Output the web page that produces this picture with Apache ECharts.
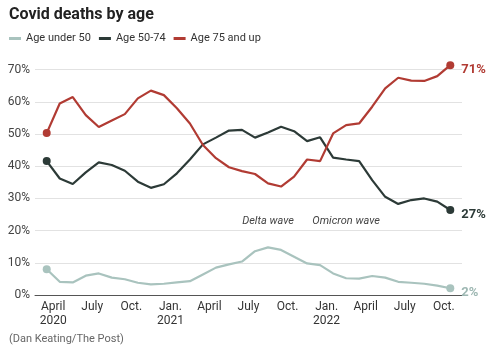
<!DOCTYPE html>
<html>
<head>
<meta charset="utf-8">
<script src="https://cdn.jsdelivr.net/npm/echarts@6/dist/echarts.min.js"></script>
<style>
html,body{margin:0;padding:0;background:#fff;}
#chart{width:500px;height:349px;}
</style>
</head>
<body>
<div id="chart"></div>
<script>
// Monthly data, March 2020 to October 2022 (share of Covid deaths, %)
var months = ['2020-03','2020-04','2020-05','2020-06','2020-07','2020-08','2020-09','2020-10','2020-11','2020-12',
  '2021-01','2021-02','2021-03','2021-04','2021-05','2021-06','2021-07','2021-08','2021-09','2021-10','2021-11','2021-12',
  '2022-01','2022-02','2022-03','2022-04','2022-05','2022-06','2022-07','2022-08','2022-09','2022-10'];
var under50 = [8.0,4.1,3.9,6.0,6.7,5.4,4.9,3.8,3.3,3.5,3.9,4.3,6.4,8.5,9.5,10.4,13.6,14.8,14.0,11.9,9.8,9.3,6.7,5.2,5.1,5.9,5.4,4.1,3.8,3.5,2.9,2.1];
var age50to74 = [41.6,36.2,34.5,38.1,41.2,40.4,38.6,35.2,33.3,34.4,37.8,42.1,46.8,48.9,51.1,51.3,48.9,50.5,52.3,50.9,47.8,49.0,42.7,42.1,41.6,35.7,30.5,28.3,29.5,30.0,29.0,26.4];
var age75up = [50.3,59.5,61.5,55.9,52.2,54.2,56.2,61.1,63.5,62.1,58.0,53.3,46.6,42.5,39.7,38.5,37.6,34.7,33.7,36.8,42.1,41.6,50.2,52.8,53.3,58.5,64.2,67.5,66.6,66.5,68.0,71.4];
var seriesNames = ['Age under 50','Age 50-74','Age 75 and up'];
var endLabels = ['2%','27%','71%'];
var tickMonths = ['2020-04','2020-07','2020-10','2021-01','2021-04','2021-07','2021-10','2022-01','2022-04','2022-07','2022-10'];
var tickLabels = ['April\n2020','July','Oct.','Jan.\n2021','April','July','Oct.','Jan.\n2022','April','July','Oct.'];
var yTicks = [0,10,20,30,40,50,60,70];
var annotations = [{text:'Delta wave', month:'2021-08', value:23}, {text:'Omicron wave', month:'2022-02', value:23}];

// month string -> months since Jan 1 2020 (start of month)
function monthStart(m){ var p = m.split('-'); return (parseInt(p[0],10)-2020)*12 + parseInt(p[1],10)-1; }
function midMonth(m){ return monthStart(m) + 0.5; }

var colors = ['#a9c3be','#2c3a37','#b13b33'];
var values = [under50, age50to74, age75up];
var tickVals = tickMonths.map(monthStart);

var fontFam = 'Roboto, "Liberation Sans", sans-serif';
var series = values.map(function(arr, k){
  var last = arr.length - 1;
  var s = {
    name: seriesNames[k],
    type: 'line',
    data: arr.map(function(v,i){ return [midMonth(months[i]), v]; }),
    symbol: 'circle',
    showAllSymbol: true,
    symbolSize: function(val, params){ return (params.dataIndex === 0 || params.dataIndex === last) ? 8 : 0; },
    lineStyle: {width: 2.2, color: colors[k]},
    itemStyle: {color: colors[k]},
    clip: false,
    z: 3 + k,
    animation: false,
    endLabel: {
      show: true,
      formatter: endLabels[k],
      color: k === 0 ? '#9db7b2' : colors[k],
      fontWeight: 'bold',
      fontSize: 13,
      fontFamily: fontFam,
      distance: 11,
      offset: [0, 5]
    }
  };
  if (k === 1) {
    s.markPoint = {
      symbol: 'circle', symbolSize: 0, silent: true, animation: false,
      label: {show: true, position: 'inside', fontStyle: 'italic', color: '#444', fontSize: 11, fontFamily: fontFam},
      data: annotations.map(function(a){ return {coord: [midMonth(a.month), a.value], label: {formatter: a.text}}; })
    };
  }
  return s;
});

var chart = echarts.init(document.getElementById('chart'), null, {renderer: 'canvas'});
chart.setOption({
  backgroundColor: '#fff',
  animation: false,
  color: colors,
  textStyle: {fontFamily: fontFam},
  title: [{
    text: 'Covid deaths by age',
    left: 4, top: 2,
    textStyle: {fontSize: 16, fontWeight: 'bold', color: '#222', fontFamily: fontFam}
  }, {
    text: '(Dan Keating/The Post)',
    left: 4, top: 329,
    textStyle: {fontSize: 11, fontWeight: 'normal', color: '#666', fontFamily: fontFam}
  }],
  legend: {
    left: 4, top: 28,
    itemWidth: 12, itemHeight: 3, itemGap: 8,
    icon: 'rect',
    textStyle: {fontSize: 11, color: '#333', fontFamily: fontFam},
    data: seriesNames
  },
  grid: {left: 35, right: 38, top: 69.7, bottom: 54, containLabel: false},
  xAxis: {
    type: 'value',
    min: 1.6, max: 34.4,
    axisLine: {show: true, lineStyle: {color: '#555', width: 1}},
    axisTick: {show: false},
    splitLine: {show: false},
    axisLabel: {
      customValues: tickVals,
      color: '#333', fontSize: 12, lineHeight: 14, margin: 5,
      fontFamily: fontFam,
      formatter: function(v){ var i = tickVals.indexOf(v); return i >= 0 ? tickLabels[i] : ''; }
    }
  },
  yAxis: {
    type: 'value',
    min: 0, max: 70, interval: 10,
    axisLine: {show: false},
    axisTick: {show: false},
    splitLine: {show: true, lineStyle: {color: '#e2e2e2', width: 1}},
    axisLabel: {
      customValues: yTicks,
      color: '#444', fontSize: 12, margin: 5, fontFamily: fontFam,
      formatter: function(v){ return v + '%'; }
    }
  },
  series: series
});
</script>
</body>
</html>
